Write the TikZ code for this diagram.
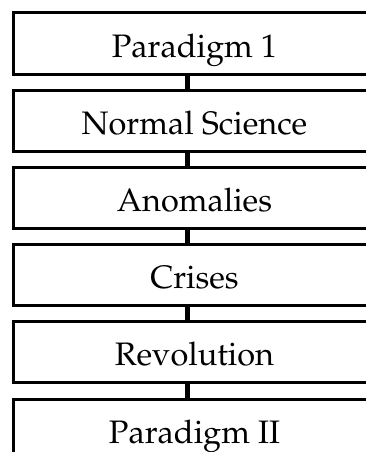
\documentclass[tikz,border=0pt]{standalone}
\usepackage[T1]{fontenc}
\usepackage{mathpazo}
\begin{document}
\begin{tikzpicture}[x=1pt,y=1pt,
  stagebox/.style={draw=black, line width=3pt, minimum width=363pt, minimum height=61pt, inner sep=0pt, fill=white},
  stagetext/.style={anchor=base, inner sep=0pt, font=\fontsize{32.5}{38}\selectfont},
  link/.style={line width=4.5pt}]
\useasboundingbox (0,0) rectangle (366,-452);
\clip (0,0) rectangle (366,-452);
\def\stepy{77.2}
\foreach \i/\t in {1/{Paradigm 1},2/{Normal Science},3/{Anomalies},4/{Crises},5/{Revolution},6/{Paradigm II}}{
  \node[stagebox] (b\i) at (194.5,{-(13+30.5+\stepy*(\i-1))}) {};
  \node[stagetext] (t\i) at ([yshift=-13.5pt]b\i.center) {\t};
}
\foreach \i/\j in {1/2,2/3,3/4,4/5,5/6}{
  \draw[link] ([xshift=-7pt]b\i.south) -- ([xshift=-7pt]b\j.north);
}
\end{tikzpicture}
\end{document}
